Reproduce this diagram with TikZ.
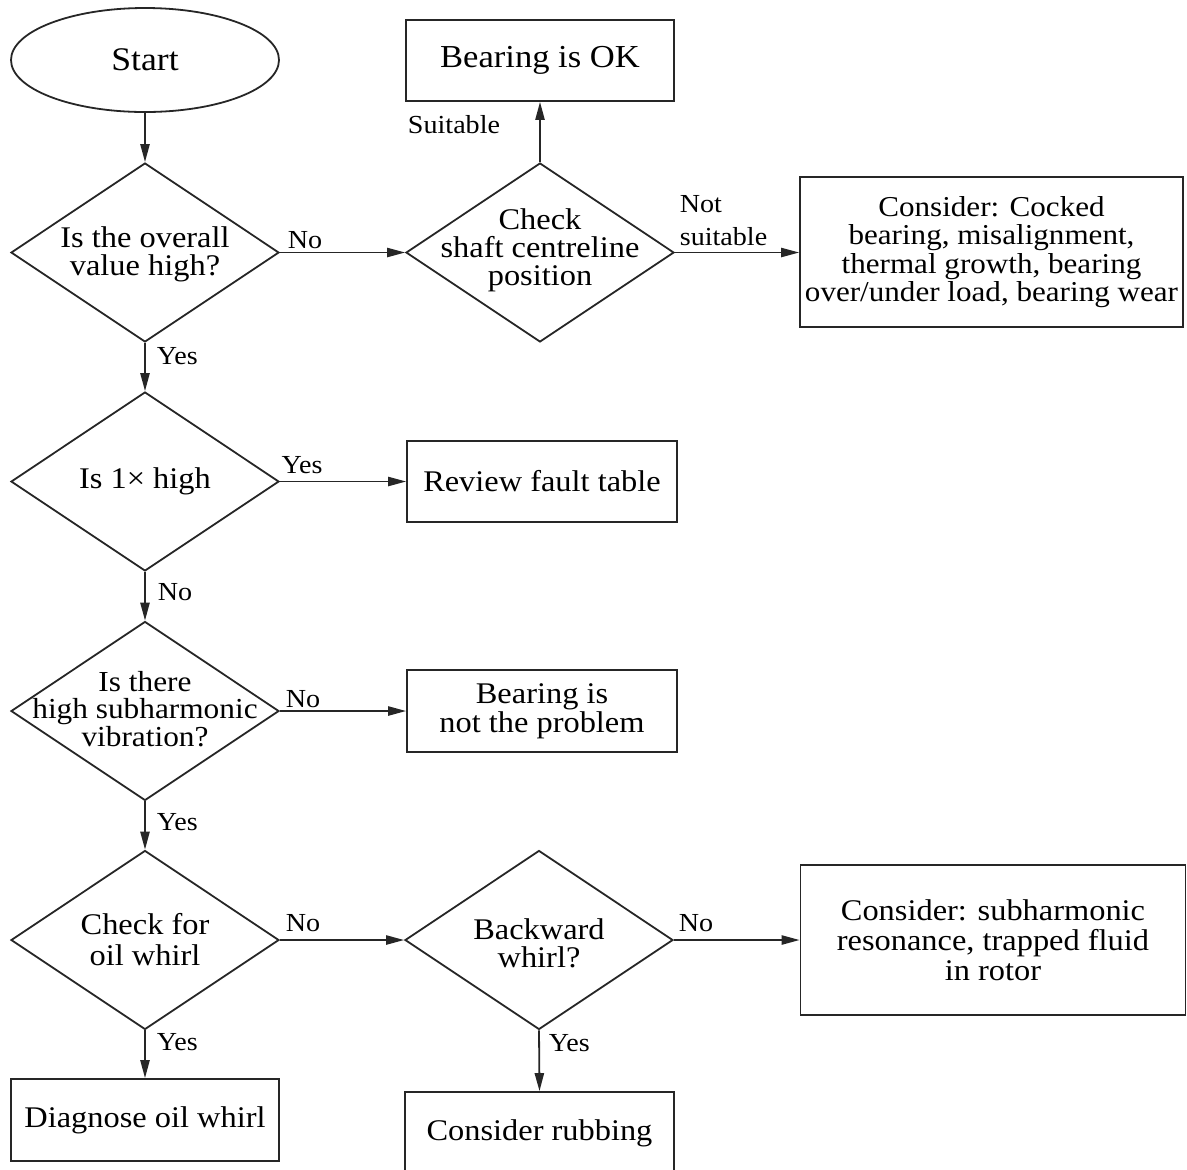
\documentclass[tikz,border=0pt]{standalone}
\usepackage{fontspec}
\setmainfont{Liberation Serif}[FakeStretch=1.08]
\usetikzlibrary{shapes.geometric,arrows.meta}
\begin{document}
\begin{tikzpicture}[x=0.5pt,y=-0.5pt, line width=0.9pt,
  box/.style={draw=black!85, rectangle, inner sep=0pt, align=center,
    font=\fontsize{15}{14}\selectfont},
  decision/.style={draw=black!85, diamond, inner sep=0pt,
    minimum width=134pt, minimum height=89.5pt},
  dtext/.style={align=center, inner sep=0pt, font=\fontsize{15}{14}\selectfont},
  lbl/.style={inner sep=0pt, font=\fontsize{13}{13}\selectfont},
  arrow/.style={draw=black!85, -{Triangle[length=9pt,width=4.6pt]}}
]
\clip (0,0) rectangle (1187,1169);
% nodes
\node[draw=black!85, ellipse, inner sep=0pt, minimum width=134pt, minimum height=52pt,
  font=\fontsize{16.5}{17}\selectfont] (start) at (145,60) {Start};
\node[decision] (d1) at (145,252.5) {};
\node[dtext] (d1t) at (145,254) {Is the overall\\value high?};
\node[decision] (d2) at (540,252.5) {};
\node[dtext] (d2t) at (540,250) {Check\\shaft centreline\\position};
\node[box, minimum width=134pt, minimum height=40.5pt, font=\fontsize{16}{16}\selectfont] (ok) at (540,60.5) {Bearing is OK};
\node[box, minimum width=191.5pt, minimum height=75pt, font=\fontsize{14.4}{14.2}\selectfont] (c1) at (991.5,252) {Consider: Cocked\\bearing, misalignment,\\thermal growth, bearing\\over/under load, bearing wear};
\node[decision] (d3) at (145,481.5) {};
\node[dtext] (d3t) at (145,481.5) {Is 1× high};
\node[box, minimum width=135pt, minimum height=40.5pt] (review) at (542,481.5) {Review fault table};
\node[decision] (d4) at (145,711) {};
\node[dtext, font=\fontsize{14.5}{13.8}\selectfont] (d4t) at (145,709) {Is there\\high subharmonic\\vibration?};
\node[box, minimum width=135pt, minimum height=41pt, font=\fontsize{15}{14.5}\selectfont] (np) at (542,711) {Bearing is\\not the problem};
\node[decision] (d5) at (145,940) {};
\node[dtext, font=\fontsize{15}{15.5}\selectfont] (d5t) at (145,940) {Check for\\oil whirl};
\node[decision] (d6) at (539,940) {};
\node[dtext, font=\fontsize{15}{14.2}\selectfont] (d6t) at (539,943) {Backward\\whirl?};
\node[box, minimum width=192.5pt, minimum height=75pt, font=\fontsize{15}{15}\selectfont] (c2) at (993,940) {Consider: subharmonic\\resonance, trapped fluid\\in rotor};
\node[box, minimum width=134pt, minimum height=41pt] (diag) at (145,1120) {Diagnose oil whirl};
\node[box, minimum width=134.5pt, minimum height=41pt] (rub) at (539.5,1133) {Consider rubbing};
% connectors
\draw[arrow] (start) -- (d1);
\draw[arrow] (d1.east) -- (d2.west);
\draw[arrow] (d2.north) -- (ok.south);
\draw[arrow] (d2.east) -- (d2.east -| c1.west);
\draw[arrow] (d1.south) -- (d3.north);
\draw[arrow] (d3.east) -- (d3.east -| review.west);
\draw[arrow] (d3.south) -- (d4.north);
\draw[arrow] (d4.east) -- (d4.east -| np.west);
\draw[arrow] (d4.south) -- (d5.north);
\draw[arrow] (d5.east) -- (d6.west);
\draw[arrow] (d6.east) -- (d6.east -| c2.west);
\draw[arrow] (d5.south) -- (diag.north);
\draw[arrow] (d6.south) -- (rub.north);
% labels
\node[lbl] (l1) at (305,240) {No};
\node[lbl] (l2) at (454,125) {Suitable};
\node[lbl, anchor=west, align=left, font=\fontsize{13}{16.5}\selectfont] (l3) at (679,221) {Not\\suitable};
\node[lbl, anchor=west] (l4) at (156,356) {Yes};
\node[lbl] (l5) at (302,465) {Yes};
\node[lbl, anchor=west] (l6) at (157,592) {No};
\node[lbl] (l7) at (303,699) {No};
\node[lbl, anchor=west] (l8) at (156,822) {Yes};
\node[lbl] (l9) at (303,923) {No};
\node[lbl] (l10) at (696,923) {No};
\node[lbl, anchor=west] (l11) at (156,1042) {Yes};
\node[lbl, anchor=west] (l12) at (548,1043) {Yes};
\end{tikzpicture}
\end{document}
